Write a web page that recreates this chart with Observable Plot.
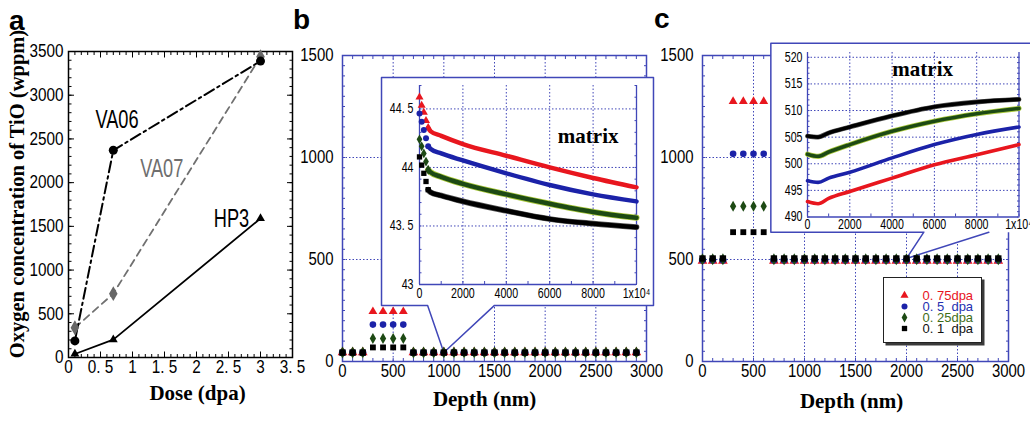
<!DOCTYPE html>
<html>
<head>
<meta charset="utf-8">
<script src="https://cdn.jsdelivr.net/npm/d3@7"></script>
<script src="https://cdn.jsdelivr.net/npm/@observablehq/plot@0.6"></script>
<style>
  body { margin: 0; background: #fff; }
  #fig { position: relative; width: 1030px; height: 423px; overflow: hidden; background: #fff; }
  .letter { position: absolute; font: bold 28px "Liberation Sans", Arial, sans-serif; line-height: 28px; color: #000; }
  .ylab { position: absolute; white-space: nowrap; font: bold 20.5px "Liberation Serif", "Times New Roman", serif;
          transform: translate(-50%, -50%) rotate(-90deg); color: #000; }
</style>
</head>
<body>
<div id="fig"></div>
<script>
// ---------------- Panel a data ----------------
const doses = [0.1, 0.7, 3.0];
const va06 = [190, 2370, 3390];
const va07 = [340, 730, 3440];
const hp3 = [40, 205, 1590];
const doseTicks = [0, 0.5, 1, 1.5, 2, 2.5, 3, 3.5];
const doseTickLabels = ["0", "0. 5", "1", "1. 5", "2", "2. 5", "3", "3. 5"];
const concTicksA = [0, 500, 1000, 1500, 2000, 2500, 3000, 3500];
const sampleNames = ["VA06", "VA07", "HP3"];
const sampleLabelDose = [0.42, 1.12, 2.27];
const sampleLabelConc = [2620, 2060, 1490];

// ---------------- Panels b and c data ----------------
const seriesNames = ["0. 75dpa", "0. 5  dpa", "0. 25dpa", "0. 1  dpa"];
const tioDepths = [300, 400, 500, 600];
const matrixDepths = [0, 100, 200, 700, 800, 900, 1000, 1100, 1200, 1300, 1400, 1500, 1600, 1700,
  1800, 1900, 2000, 2100, 2200, 2300, 2400, 2500, 2600, 2700, 2800, 2900];
const tioB = [245, 181, 113, 69];
const matrixB = [44.3, 44.1, 43.9, 43.75];
const tioC = [1275, 1018, 761, 634];
const matrixC = [493, 497, 501, 505];
const depthTicks = [0, 500, 1000, 1500, 2000, 2500, 3000];
const concTicksBC = [0, 500, 1000, 1500];

// inset b (matrix, depth 0 - 1e4 nm)
const insetDepthsB = [0, 100, 200, 300, 400, 500, 1000, 2000, 4000, 6000, 8000, 10000];
const insetRedB   = [44.60, 44.53, 44.47, 44.40, 44.34, 44.31, 44.27, 44.20, 44.10, 44.00, 43.91, 43.83];
const insetBlueB  = [44.46, 44.39, 44.32, 44.25, 44.18, 44.16, 44.12, 44.06, 43.95, 43.85, 43.77, 43.71];
const insetGreenB = [44.24, 44.18, 44.12, 44.05, 43.98, 43.96, 43.92, 43.86, 43.77, 43.69, 43.62, 43.57];
const insetBlackB = [44.09, 44.02, 43.95, 43.88, 43.81, 43.79, 43.76, 43.71, 43.63, 43.56, 43.52, 43.49];
const insetTicksYB = [43, 43.5, 44, 44.5];
const insetTickLabelsYB = ["43", "43. 5", "44", "44. 5"];

// inset c
const insetDepthsC = [0, 500, 1000, 2000, 4000, 6000, 8000, 10000];
const insetRedC   = [492.9, 492.5, 493.5, 494.8, 497.3, 499.8, 501.7, 503.6];
const insetBlueC  = [496.8, 496.5, 497.3, 498.4, 501.1, 503.6, 505.5, 506.9];
const insetGreenC = [501.8, 501.4, 502.2, 503.6, 506.1, 508.0, 509.4, 510.4];
const insetBlackC = [505.2, 505.0, 505.8, 506.9, 509.0, 510.7, 511.6, 512.1];
const insetTicksYC = [490, 495, 500, 505, 510, 515, 520];

const insetTicksX = [0, 2000, 4000, 6000, 8000, 10000];
const insetTickLabelsX = ["0", "2000", "4000", "6000", "8000", "1x10⁴"];

// callout outlines (depth nm, concentration) for the zoom boxes
const calloutB = [[840, 275], [385, 275], [385, 1392], [3069, 1392], [3069, 275], [1500, 275], [1000, 43.75], [840, 275]];
const calloutFillC = [[670, 634], [670, 1560], [3320, 1560], [3320, 634], [2807, 634], [2000, 505], [2170, 634], [670, 634]];
const calloutEdgeC = [[2807, 634], [2000, 505], [2170, 634], [670, 634], [670, 1560], [3320, 1560]];

// ---------------- styles ----------------
const BLUE = "#4047b8";
const seriesColors = ["#e8161e", "#1b22a8", "#1d4a14", "#000000"];
const seriesSymbols = ["triangle", "circle", "diamond", "square"];
const legendTextColors = ["#e8141e", "#2430b0", "#3f6e18", "#111111"];
const sampleColors = ["#000000", "#6e6e6e", "#000000"];
const SANS = '"Liberation Sans", Arial, sans-serif';
const SERIF = '"Liberation Serif", "Times New Roman", "DejaVu Serif", serif';

const fig = document.getElementById("fig");
function place(el, left, top) {
  el.style.position = "absolute";
  el.style.left = left + "px";
  el.style.top = top + "px";
  el.style.background = "transparent";
  el.style.overflow = "visible";
  el.style.maxWidth = "none";
  fig.appendChild(el);
  return el;
}
// horizontally condense the sans texts (the original uses a condensed face)
function condense(svg, s, sBig = s) {
  svg.querySelectorAll("text").forEach(t => {
    if (!t.textContent) return;
    const cs = getComputedStyle(t);
    if (/Liberation Serif|Times New Roman/.test(cs.fontFamily)) return;
    const k = parseFloat(cs.fontSize) >= 22 ? sBig : s;
    const L = t.getComputedTextLength();
    if (L > 0) {
      t.setAttribute("textLength", (L * k).toFixed(2));
      t.setAttribute("lengthAdjust", "spacingAndGlyphs");
    }
  });
}
function inward(axis, anchor, ticks, size, color, width = 1) {
  const f = axis === "x" ? Plot.axisX : Plot.axisY;
  return f(ticks, {anchor, tickSize: -size, tickFormat: () => "", label: null, stroke: color, strokeWidth: width});
}
const rng = (a, b, s) => d3.range(a, b + s / 2, s);

// ---------------- Panel a ----------------
const recA = vals => doses.map((d, i) => ({dose: d, conc: vals[i]}));
const plotA = Plot.plot({
  width: 300, height: 423,
  marginLeft: 68, marginRight: 8, marginTop: 51, marginBottom: 66,
  x: {domain: [0, 3.5], label: null},
  y: {domain: [0, 3500], label: null},
  style: {fontFamily: SANS, fontSize: "18px", color: "#000"},
  marks: [
    Plot.frame({stroke: "#000", strokeWidth: 1.5}),
    inward("x", "bottom", rng(0, 3.5, 0.1), 3, "#000"),
    inward("x", "top", rng(0, 3.5, 0.1), 3, "#000"),
    inward("x", "bottom", doseTicks, 5.5, "#000"),
    inward("x", "top", doseTicks, 5.5, "#000"),
    inward("y", "left", rng(0, 3500, 100), 3.5, "#000"),
    inward("y", "right", rng(0, 3500, 100), 3.5, "#000"),
    inward("y", "left", concTicksA, 6, "#000"),
    inward("y", "right", concTicksA, 6, "#000"),
    Plot.axisX(doseTicks, {tickSize: 0, tickPadding: 3, label: null,
      tickFormat: d => doseTickLabels[doseTicks.indexOf(d)]}),
    Plot.axisY(concTicksA, {tickSize: 0, tickPadding: 5, label: null, tickFormat: d => String(d)}),
    Plot.line(recA(va07), {x: "dose", y: "conc", stroke: "#707070", strokeWidth: 1.8, strokeDasharray: "7,5"}),
    Plot.line(recA(va06), {x: "dose", y: "conc", stroke: "#000", strokeWidth: 2, strokeDasharray: "11,4,2.5,4"}),
    Plot.line(recA(hp3), {x: "dose", y: "conc", stroke: "#000", strokeWidth: 1.8}),
    Plot.dot(recA(va07), {x: "dose", y: "conc", symbol: "diamond", fill: "#666", r: 4.5}),
    Plot.dot(recA(va06), {x: "dose", y: "conc", symbol: "circle", fill: "#000", r: 4.5}),
    Plot.dot(recA(hp3), {x: "dose", y: "conc", symbol: "triangle", fill: "#000", r: 3.3}),
    ...sampleNames.map((n, i) => Plot.text([n], {
      x: () => sampleLabelDose[i], y: () => sampleLabelConc[i], text: d => d,
      textAnchor: "start", lineAnchor: "bottom", fill: sampleColors[i], fontSize: 26, fontFamily: SANS
    })),
    Plot.text(["Dose (dpa)"], {text: d => d, frameAnchor: "bottom", dx: 17, dy: 42,
      fontFamily: SERIF, fontWeight: "bold", fontSize: 21})
  ]
});
place(plotA, 0, 0);
condense(plotA, 0.85, 0.7);
const ylab = document.createElement("div");
ylab.className = "ylab";
ylab.textContent = "Oxygen concentration of TiO (wppm)";
ylab.style.left = "17px";
ylab.style.top = "194px";
fig.appendChild(ylab);

// ---------------- Panels b, c (main) ----------------
function depthPanel(tio, matrix, calloutFill, calloutEdge, marginLeft, marginRight, labelDx, labelDy) {
  const marks = [
    Plot.gridX(depthTicks.slice(1, -1), {stroke: BLUE, strokeOpacity: 1, strokeDasharray: "1.5,2"}),
    Plot.gridY(concTicksBC.slice(1, -1), {stroke: BLUE, strokeOpacity: 1, strokeDasharray: "1.5,2"}),
    Plot.frame({stroke: BLUE, strokeWidth: 1.5}),
    inward("x", "bottom", rng(0, 3000, 100), 3, BLUE),
    inward("x", "top", rng(0, 3000, 100), 3, BLUE),
    inward("y", "left", rng(0, 1500, 50), 3, BLUE),
    inward("y", "right", rng(0, 1500, 50), 3, BLUE),
    Plot.axisX(depthTicks, {tickSize: 0, tickPadding: 3, label: null, tickFormat: d => String(d)}),
    Plot.axisY(concTicksBC, {tickSize: 0, tickPadding: 9, label: null, tickFormat: d => String(d)}),
    Plot.text(["Depth (nm)"], {text: d => d, frameAnchor: "bottom", dx: labelDx, dy: labelDy,
      fontFamily: SERIF, fontWeight: "bold", fontSize: 21}),
    Plot.line(calloutFill, {x: d => d[0], y: d => d[1], fill: "white", stroke: "none"}),
    Plot.line(calloutEdge, {x: d => d[0], y: d => d[1], stroke: BLUE, strokeWidth: 1.5})
  ];
  seriesNames.forEach((n, i) => {
    marks.push(Plot.dot(tioDepths.map(d => ({depth: d, value: tio[i]})),
      {x: "depth", y: "value", symbol: seriesSymbols[i], fill: seriesColors[i], r: 3.3}));
  });
  seriesNames.forEach((n, i) => {
    marks.push(Plot.dot(matrixDepths.map(d => ({depth: d, value: matrix[i]})),
      {x: "depth", y: "value", symbol: seriesSymbols[i], fill: seriesColors[i], r: 3.6}));
  });
  return Plot.plot({
    width: 370, height: 423, marginLeft, marginRight, marginTop: 55, marginBottom: 62,
    x: {domain: [0, 3000], label: null}, y: {domain: [0, 1500], label: null},
    style: {fontFamily: SANS, fontSize: "18px", color: "#000"},
    marks
  });
}
const plotB = place(depthPanel(tioB, matrixB, calloutB, calloutB, 52, 14, -10, 44), 290, 0);
condense(plotB, 0.83);

// ---------------- insets ----------------
function insetPanel(o) {
  const marks = [
    Plot.gridX([2000, 4000, 6000, 8000], {stroke: BLUE, strokeOpacity: 1, strokeDasharray: "1.5,2"}),
    Plot.gridY(o.yTicks.slice(1).filter(v => v < o.yDomain[1]), {stroke: BLUE, strokeOpacity: 1, strokeDasharray: "1.5,2"}),
    Plot.ruleX([0, 10000], {stroke: BLUE, strokeWidth: 1.3}),
    Plot.ruleY([o.yDomain[0]], {stroke: BLUE, strokeWidth: 1.3}),
    inward("x", "bottom", rng(0, 10000, 1000), 3, BLUE),
    inward("y", "left", o.yMinor, 2.5, BLUE),
    inward("y", "right", o.yMinor, 2.5, BLUE),
    Plot.axisX(insetTicksX, {tickSize: 0, tickPadding: o.xPad, label: null, fontSize: 14,
      tickFormat: d => insetTickLabelsX[insetTicksX.indexOf(d)]}),
    Plot.axisY(o.yTicks, {tickSize: 0, tickPadding: o.yPad, label: null, fontSize: 14,
      tickFormat: d => o.yLabels[o.yTicks.indexOf(d)]}),
    Plot.text(["matrix"], {text: d => d, frameAnchor: "top-right", textAnchor: "end", lineAnchor: "bottom",
      dx: o.mDx, dy: o.mDy, fontFamily: SERIF, fontWeight: "bold", fontSize: 21})
  ];
  o.series.forEach((vals, i) => {
    const rec = o.depths.map((d, j) => ({depth: d, value: vals[j]}));
    const lineRec = rec.filter(d => d.depth >= o.lineFrom);
    if (i === 2) marks.push(Plot.line(lineRec, {x: "depth", y: "value", stroke: "#a8c83a", strokeWidth: o.lw + 1.6, curve: "monotone-x"}));
    if (i === 3) marks.push(Plot.line(lineRec, {x: "depth", y: "value", stroke: "#555", strokeWidth: o.lw + 1.2, curve: "monotone-x"}));
    marks.push(Plot.line(lineRec, {x: "depth", y: "value", stroke: seriesColors[i], strokeWidth: o.lw, curve: "monotone-x"}));
    if (o.markersTo != null) {
      marks.push(Plot.dot(rec.filter(d => d.depth <= o.markersTo),
        {x: "depth", y: "value", symbol: seriesSymbols[i], fill: seriesColors[i], r: 3}));
    }
  });
  return Plot.plot({
    width: o.width, height: o.height,
    marginLeft: o.ml, marginRight: o.mr, marginTop: o.mt, marginBottom: o.mb,
    x: {domain: [0, 10000], label: null}, y: {domain: o.yDomain, label: null},
    style: {fontFamily: SANS, fontSize: "14px", color: "#000"},
    marks
  });
}

const insetB = place(insetPanel({
  width: 272, height: 228, ml: 38, mr: 17, mt: 8, mb: 21,
  yDomain: [43, 44.7], yTicks: insetTicksYB, yLabels: insetTickLabelsYB, yMinor: rng(43, 44.7, 0.1),
  depths: insetDepthsB, series: [insetRedB, insetBlueB, insetGreenB, insetBlackB],
  lineFrom: 400, markersTo: 400, lw: 4.5, xPad: 4, yPad: 6, mDx: -18, mDy: 57
}), 381, 77);
condense(insetB, 0.76);

const plotC = place(depthPanel(tioC, matrixC, calloutFillC, calloutEdgeC, 42, 22, -4, 46), 660, 0);
condense(plotC, 0.83);

const insetC = place(insetPanel({
  width: 260, height: 189, ml: 37, mr: 11.5, mt: 9, mb: 15.5,
  yDomain: [490, 520.9], yTicks: insetTicksYC, yLabels: insetTicksYC.map(String), yMinor: rng(490, 520, 1),
  depths: insetDepthsC, series: [insetRedC, insetBlueC, insetGreenC, insetBlackC],
  lineFrom: 0, markersTo: null, lw: 3.6, xPad: 2, yPad: 5, mDx: -66, mDy: 23
}), 770, 43);
condense(insetC, 0.76);

// ---------------- legend (panel c) ----------------
const legendMarks = [];
seriesNames.forEach((n, i) => {
  legendMarks.push(Plot.dot([n], {y: d => d, frameAnchor: "left", dx: 20, symbol: seriesSymbols[i], fill: seriesColors[i], r: 3}));
  legendMarks.push(Plot.text([n], {y: d => d, text: d => d, frameAnchor: "left", dx: 38, textAnchor: "start",
    fill: legendTextColors[i], fontSize: 13, fontFamily: SANS}));
});
const legend = Plot.plot({
  width: 97, height: 64, margin: 0,
  y: {type: "point", domain: seriesNames, range: [10.5, 55.5], axis: null},
  style: {fontFamily: SANS, fontSize: "13px"},
  marks: legendMarks
});
place(legend, 883, 277);
legend.style.background = "white";
legend.style.border = "1.5px solid #222";
legend.style.boxShadow = "2.5px 2.5px 0 #3a3a3a";
condense(legend, 1.0);

// ---------------- panel letters ----------------
[["a", 9, 7], ["b", 293, 6], ["c", 654, 5]].forEach(([t, l, tp]) => {
  const d = document.createElement("div");
  d.className = "letter";
  d.textContent = t;
  d.style.left = l + "px";
  d.style.top = tp + "px";
  fig.appendChild(d);
});
</script>
</body>
</html>
